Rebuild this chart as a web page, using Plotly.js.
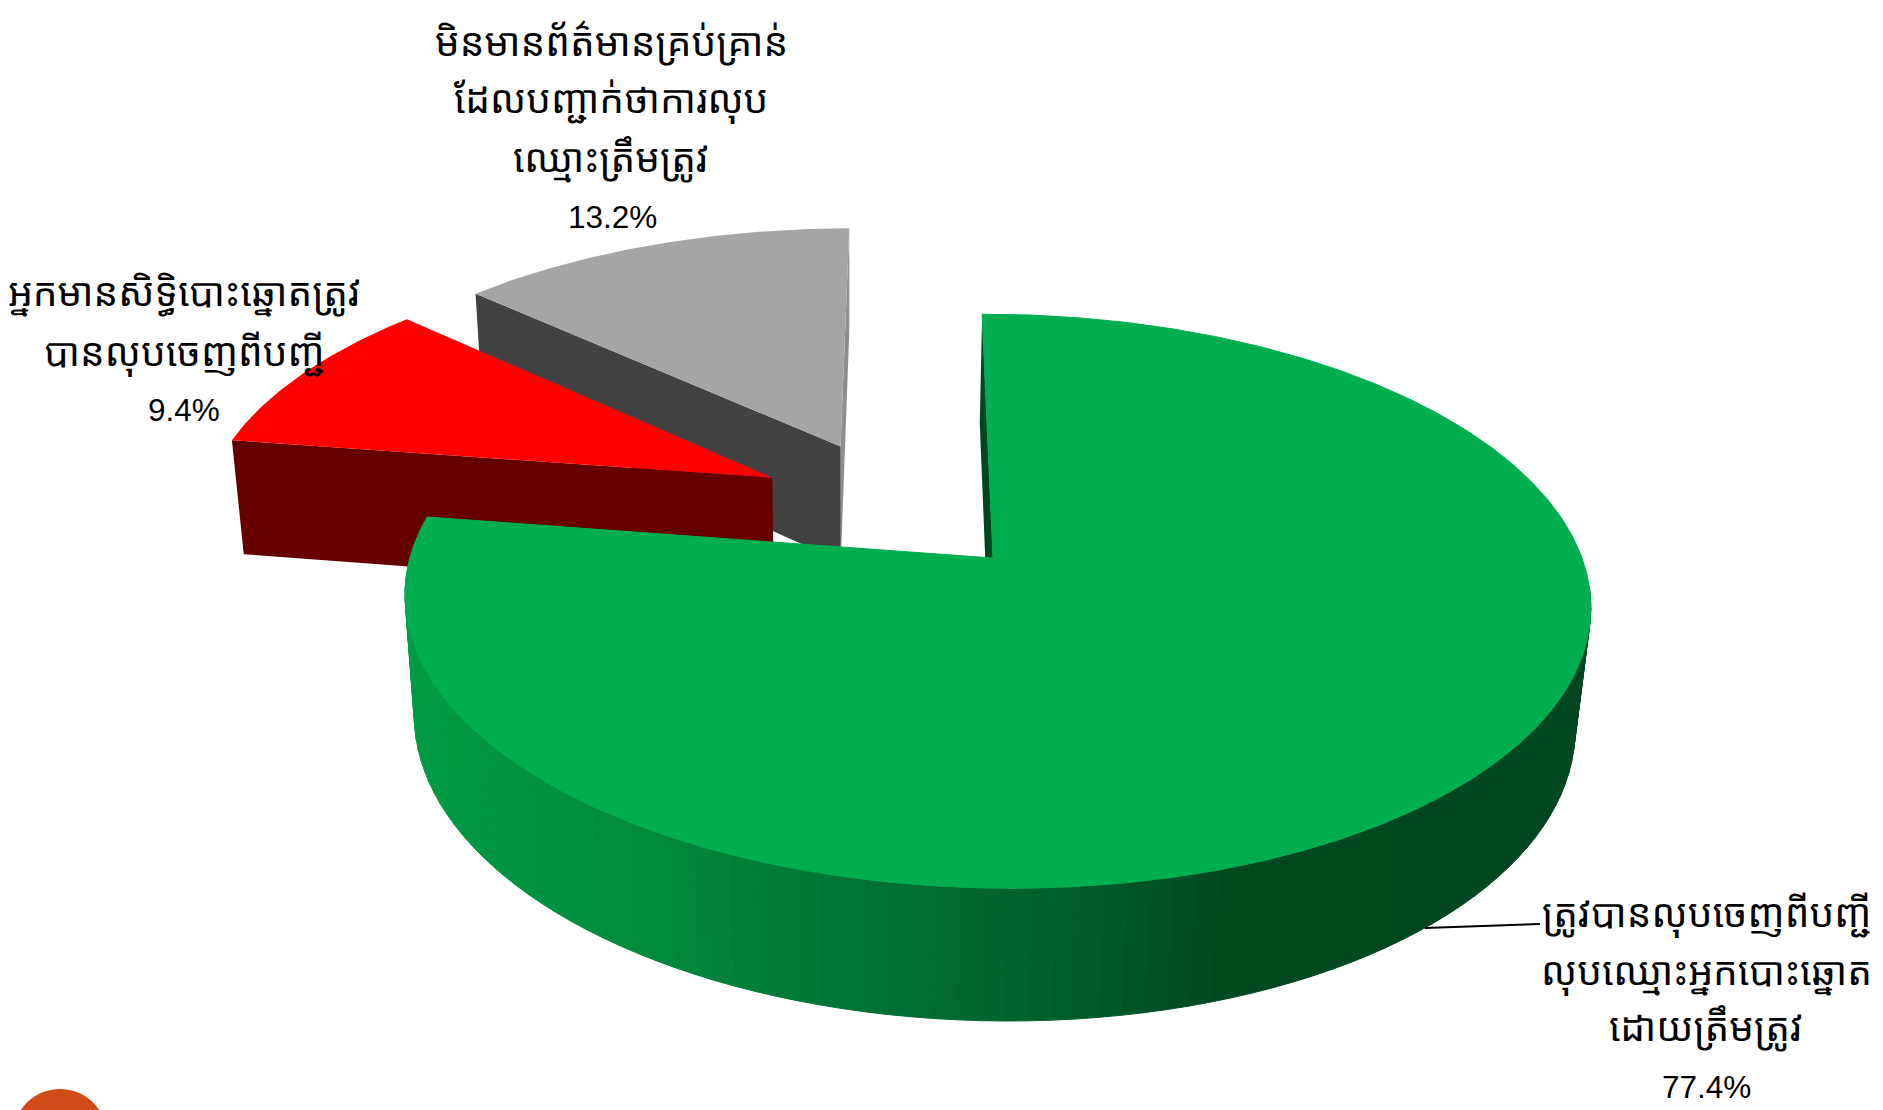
<!DOCTYPE html>
<html><head><meta charset="utf-8">
<script src="https://cdn.plot.ly/plotly-3.0.1.min.js"></script>
<style>html,body{margin:0;padding:0;background:#fff}#chart{width:1883px;height:1110px}</style>
</head><body><div id="chart"></div>
<script>
// Data
const categories = ["ត្រូវបានលុបចេញពីបញ្ជី", "មិនមានព័ត៌មានគ្រប់គ្រាន់", "អ្នកមានសិទ្ធិបោះឆ្នោតត្រូវ"];
const shares = [77.4, 9.4, 13.2]; // clockwise from 12 o'clock: green, red, grey
const percentLabels = ["77.4%", "9.4%", "13.2%"];
const labelGreen = ["ត្រូវបានលុបចេញពីបញ្ជី", "លុបឈ្មោះអ្នកបោះឆ្នោត", "ដោយត្រឹមត្រូវ"];
const labelRed = ["អ្នកមានសិទ្ធិបោះឆ្នោតត្រូវ", "បានលុបចេញពីបញ្ជី"];
const labelGrey = ["មិនមានព័ត៌មានគ្រប់គ្រាន់", "ដែលបញ្ជាក់ថាការលុប", "ឈ្មោះត្រឹមត្រូវ"];

// Projection of the tilted 3-D pie onto the page
const P = {cx: 993, cy: 558, a: 586, b: 280.5, s: -12.5, k: 0.1506, m: -0.005, v: 122.5, u: -3, q: 0.021};
function proj(X, Y, Z) { // Z=0 top face, Z=1 bottom face
  const w = 1 + P.k * Y + P.m * X + P.q * Z;
  return [P.cx + (P.a * X + P.s * Y + P.u * Z) / w, P.cy + (-P.b * Y + P.v * Z) / w];
}
const deg = Math.PI / 180;
const edge = (t, off, Z) => proj(off[2] * Math.sin(t * deg) + off[0], off[2] * Math.cos(t * deg) + off[1], Z);
function arc(t0, t1, off, Z) {
  const n = Math.max(2, Math.round(Math.abs(t1 - t0) * 1.5)), out = [];
  for (let i = 0; i <= n; i++) out.push(edge(t0 + (t1 - t0) * i / n, off, Z));
  return out;
}
const traces = [];
function poly(pts, color, lw) {
  traces.push({type: 'scatter', mode: 'lines', x: pts.map(p => p[0]).concat(pts[0][0]), y: pts.map(p => p[1]).concat(pts[0][1]),
    fill: 'toself', fillcolor: color, line: {color: color, width: lw || 0}, hoverinfo: 'skip', showlegend: false});
}
// Cumulative angles
const angGreen = shares[0] * 3.6, angRed = angGreen + shares[1] * 3.6;
const offGrey = [-0.268, 0.4235, 1.007], offRed = [-0.388, 0.30, 1.01], off0 = [0, 0, 1];

// Grey slice
const ga = proj(offGrey[0], offGrey[1], 0), gaB = proj(offGrey[0], offGrey[1], 1);
poly([edge(360, offGrey, 0), ga, gaB, edge(360, offGrey, 1)], '#8e8e8e');
poly([edge(angRed, offGrey, 0), ga, gaB, edge(angRed, offGrey, 1)], '#424242');
poly(arc(angRed, 360, offGrey, 0).concat([ga]), '#a5a5a5');

// Red slice
const ra = proj(offRed[0], offRed[1], 0), raB = proj(offRed[0], offRed[1], 1);
poly([edge(angGreen, offRed, 0), ra, raB, edge(angGreen, offRed, 1)], '#660000');
poly(arc(angGreen, angRed, offRed, 0).concat([ra]), '#ff0000');

// Green slice: inner wall, shaded outer wall, top face
const a0 = proj(0, 0, 0), a0B = proj(0, 0, 1);
poly([edge(0, off0, 0), a0, a0B, edge(0, off0, 1)], '#00461f');
const ramp = [[400, [0, 155, 69]], [640, [0, 138, 61]], [900, [0, 111, 51]], [1100, [0, 90, 41]], [1230, [0, 72, 32]], [1900, [0, 70, 31]]];
function shade(x) {
  for (let i = 1; i < ramp.length; i++) if (x <= ramp[i][0]) {
    const f = Math.max(0, (x - ramp[i - 1][0]) / (ramp[i][0] - ramp[i - 1][0]));
    const c = ramp[i - 1][1].map((v, j) => Math.round(v + (ramp[i][1][j] - v) * f));
    return `rgb(${c[0]},${c[1]},${c[2]})`;
  }
  return 'rgb(0,70,31)';
}
for (let t = 96; t < angGreen; t += 2) {
  const t2 = Math.min(t + 2, angGreen);
  const p = [edge(t, off0, 0), edge(t2, off0, 0), edge(t2, off0, 1), edge(t, off0, 1)];
  poly(p, shade((p[0][0] + p[1][0]) / 2), 1);
}
poly(arc(0, angGreen, off0, 0).concat([a0]), '#00ad4f', 1);

// Leader line
traces.push({type: 'scatter', mode: 'lines', x: [1425, 1540], y: [928, 924], line: {color: '#000', width: 2}, hoverinfo: 'skip', showlegend: false});

// Labels
const khmerFont = {family: '"Noto Sans Khmer","Khmer OS","Noto Sans","DejaVu Sans","Liberation Sans",sans-serif', size: 39, color: '#000'};
const numFont = {family: '"Liberation Sans",Arial,sans-serif', size: 31.5, color: '#000'};
const ann = [];
const put = (txt, x, y, font) => ann.push({text: txt, x: x, y: y, xref: 'x', yref: 'y', showarrow: false, xanchor: 'center', yanchor: 'middle', font: font});
labelGrey.forEach((t, i) => put(t, 611, [40, 97, 156][i], khmerFont));
put(percentLabels[2], 612, 217, numFont);
labelRed.forEach((t, i) => put(t, 184, [290, 350][i], khmerFont));
put(percentLabels[1], 184, 410, numFont);
labelGreen.forEach((t, i) => put(t, 1706, [911, 969, 1025][i], khmerFont));
put(percentLabels[0], 1706, 1087, numFont);

const layout = {
  width: 1883, height: 1110, margin: {l: 0, r: 0, t: 0, b: 0},
  paper_bgcolor: '#fff', plot_bgcolor: '#fff', showlegend: false,
  xaxis: {range: [0, 1883], visible: false, fixedrange: true},
  yaxis: {range: [1110, 0], visible: false, fixedrange: true},
  annotations: ann,
  shapes: [{type: 'circle', xref: 'x', yref: 'y', x0: 13, x1: 107, y0: 1089, y1: 1183, fillcolor: '#d24a17', line: {width: 0}, layer: 'below'}]
};
Plotly.newPlot('chart', traces, layout, {staticPlot: true, displayModeBar: false});
</script></body></html>
